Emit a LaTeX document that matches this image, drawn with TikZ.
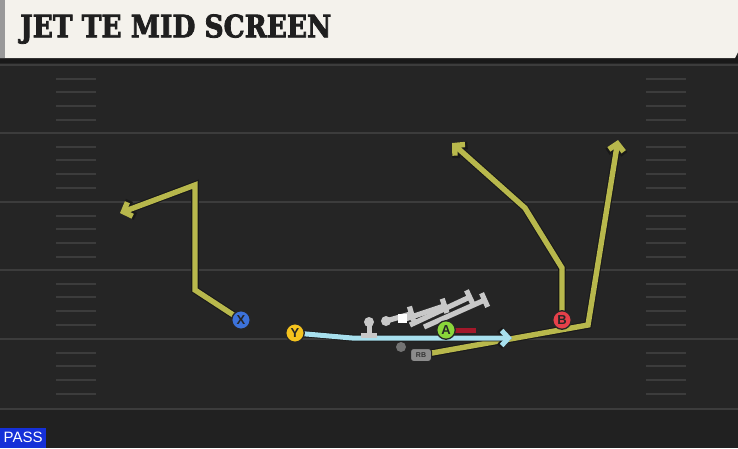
\documentclass[tikz,border=0pt]{standalone}
\usepackage{fontspec}
\usepackage{graphicx}
\usetikzlibrary{arrows.meta}
\newfontfamily\titlefont{DejaVu Serif Condensed}[BoldFont={DejaVu Serif Condensed Bold}, BoldFeatures={FakeBold=2.5}]
\newfontfamily\labfont{Liberation Sans}
\definecolor{field}{HTML}{252525}
\definecolor{yardline}{HTML}{3C3C3C}
\definecolor{hdr}{HTML}{F4F2EC}
\definecolor{olive}{HTML}{B8B84C}
\definecolor{lblue}{HTML}{A8E0EE}
\definecolor{pxblue}{HTML}{3C72DA}
\definecolor{pyellow}{HTML}{F5C31E}
\definecolor{pgreen}{HTML}{8AD63A}
\definecolor{pred}{HTML}{E5404A}
\definecolor{olgrey}{HTML}{C8C8C8}
\definecolor{blockred}{HTML}{A3182A}
\definecolor{passblue}{HTML}{1530D8}
\tikzset{
  yard/.style={draw=yardline, line width=2pt},
  hashm/.style={draw=yardline, line width=1.6pt},
  routeout/.style={draw=black!90, line width=7.6pt, line join=miter,
    -{Straight Barb[length=8pt,width=17pt]}},
  routein/.style={draw=olive, line width=5.4pt, line join=miter,
    -{Straight Barb[length=7pt,width=15pt]}},
  bluein/.style={draw=lblue, line width=5pt, line join=miter,
    -{Straight Barb[length=7pt,width=15pt]}},
  player/.style={circle, draw=black!85, line width=1.3pt, minimum size=18.5pt, inner sep=0pt,
    font=\labfont\bfseries\fontsize{13}{13}\selectfont, text=black!85},
  olline/.style={draw=olgrey, line width=5.2pt, -{Bar[width=15pt,line width=5.2pt]}},
}
\begin{document}
\begin{tikzpicture}[x=1pt,y=-1pt]
\useasboundingbox (0,0) rectangle (738,448);
\fill[field] (0,0) rectangle (738,448);
\fill[black!12!field] (0,409) rectangle (738,448);
% yard lines
\foreach \yy in {65,133,202,270,339,409}
  \draw[yard] (0,\yy) -- (738,\yy);
% hash marks
\foreach \yy in {65,133,202,270,339}{
  \foreach \dd in {14,27,41,55}{
    \draw[hashm] (56,\yy+\dd) -- (96,\yy+\dd);
    \draw[hashm] (646,\yy+\dd) -- (686,\yy+\dd);
  }
}
% header
\fill[black!90] (0,56) rectangle (738,63);
\fill[hdr] (0,0) -- (738,0) -- (738,52) -- (735,58) -- (0,58) -- cycle;
\fill[black!40] (0,0) rectangle (5,58);
\node[anchor=south west, inner sep=0pt, text=black!88] (title) at (20,44)
  {\resizebox{311pt}{23pt}{\titlefont\bfseries JET TE MID SCREEN}};
% PASS tag
\node[anchor=south west, fill=passblue, text=white, minimum width=46pt, minimum height=20pt,
  inner sep=0pt, font=\labfont\fontsize{15}{15}\selectfont] (pass) at (0,448) {PASS};
% players (positions)
\coordinate (Xp) at (241,320);
\coordinate (Yp) at (295,333);
\coordinate (Ap) at (446,330);
\coordinate (Bp) at (562,320);
\coordinate (RBp) at (421,355);
% route points
\coordinate (x1) at (195,290);
\coordinate (x2) at (195,185);
\coordinate (x3) at (120,213);
\coordinate (b1) at (562,268);
\coordinate (b2) at (525,208);
\coordinate (b3) at (452,143);
\coordinate (r1) at (588,325);
\coordinate (r2) at (618,140);
\coordinate (y1) at (352,338);
\coordinate (y2) at (512,338);
% routes (outline then colour)
\draw[routeout] (Xp) -- (x1) -- (x2) -- (x3);
\draw[routein] (Xp) -- (x1) -- (x2) -- (x3);
\draw[routeout] (Bp) -- (b1) -- (b2) -- (b3);
\draw[routein] (Bp) -- (b1) -- (b2) -- (b3);
\draw[routeout] (RBp) -- (r1) -- (r2);
\draw[routein] (RBp) -- (r1) -- (r2);
\draw[routeout, line width=6.6pt] (Yp) -- (y1) -- (y2);
\draw[bluein] (Yp) -- (y1) -- (y2);
% offensive line / blocks
\coordinate (c0) at (369,322);
\coordinate (c1) at (369,334);
\draw[olgrey, line width=5pt] (c0) -- (c1);
\draw[olgrey, line width=5pt] (361,335) -- (377,335);
\fill[olgrey] (c0) circle (5pt);
\coordinate (o1s) at (386,321);
\coordinate (o1e) at (414,313);
\coordinate (o2s) at (402,320);
\coordinate (o2e) at (447,305);
\coordinate (o3s) at (410,325);
\coordinate (o3e) at (472,296);
\coordinate (o4s) at (424,327);
\coordinate (o4e) at (487,299);
\draw[olline] (o1s) -- (o1e);
\draw[olline] (o2s) -- (o2e);
\draw[olline] (o3s) -- (o3e);
\draw[olline] (o4s) -- (o4e);
\fill[olgrey] (o1s) circle (5pt);
\fill[white] (397.5,313.5) rectangle (406.5,322.5);
\fill[black!55] (401,347) circle (5pt);
\draw[blockred, line width=5pt] (455,330) -- (476,330);
% player nodes
\node[player, fill=pxblue] (X) at (Xp) {X};
\node[player, fill=pyellow] (Y) at (Yp) {Y};
\node[player, fill=pgreen] (A) at (Ap) {A};
\node[player, fill=pred] (B) at (Bp) {B};
\node[draw=black!85, line width=1pt, fill=black!45, rounded corners=3pt, minimum width=21pt, minimum height=13pt,
  inner sep=0pt, font=\labfont\bfseries\fontsize{7}{7}\selectfont, text=black!80] (RB) at (RBp) {RB};
\end{tikzpicture}
\end{document}
